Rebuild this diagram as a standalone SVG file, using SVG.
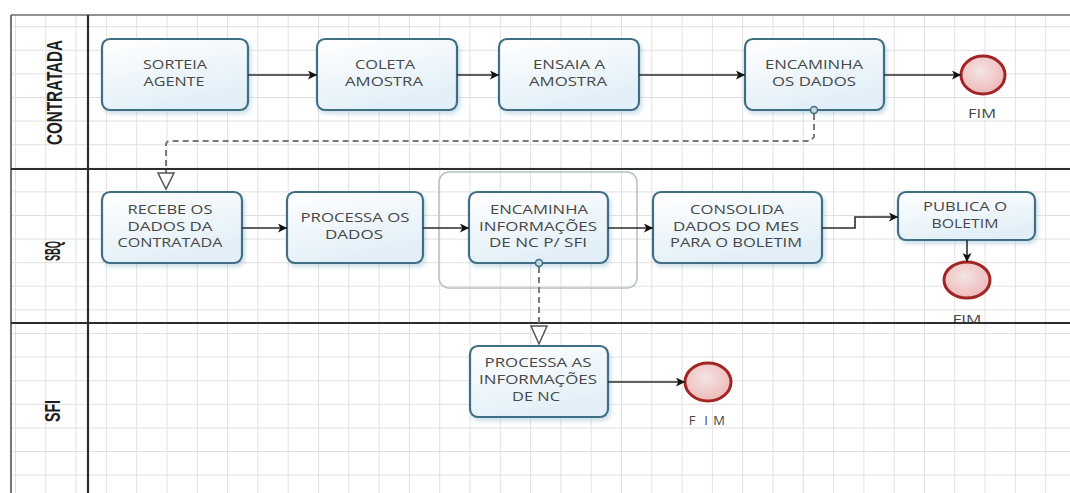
<svg xmlns="http://www.w3.org/2000/svg" width="1070" height="493" viewBox="0 0 1070 493">
<style>
.node rect.box{fill:url(#ng);stroke:#3f6e85;stroke-width:2.2;filter:url(#sh)}
.t{font-family:"Open Sans","Noto Sans",sans-serif;font-size:12px;fill:#474747;text-anchor:middle}
.lane{font-family:"Liberation Sans",Arial,sans-serif;font-weight:bold;font-size:15px;fill:#1e1e1e;text-anchor:middle}
.end ellipse{fill:url(#eg);stroke:#a32424;stroke-width:3}
.flow{stroke:#2b2b2b;stroke-width:1.6;fill:none;marker-end:url(#ah)}
.msg{stroke:#7a7a7a;stroke-width:2;fill:none;stroke-dasharray:6 4}
.tri{fill:#fff;stroke:#555;stroke-width:1.5}
.dot{fill:#c9d6dc;stroke:#3f6e85;stroke-width:1.5}
.div{stroke:#2e2e2e;stroke-width:2.2}
</style>
<defs>
<pattern id="grid" x="15" y="2.6" width="30.3" height="23.6" patternUnits="userSpaceOnUse">
<path d="M0.5,0 V23.6 M0,0.5 H30.3" stroke="#e0e0e0" stroke-width="1" fill="none"/>
</pattern>
<linearGradient id="ng" x1="0" y1="0" x2="0.4" y2="1">
<stop offset="0" stop-color="#ffffff"/>
<stop offset="1" stop-color="#e2eff8"/>
</linearGradient>
<radialGradient id="eg" cx="0.45" cy="0.4" r="0.6">
<stop offset="0" stop-color="#f4e4e4"/>
<stop offset="1" stop-color="#efb9b9"/>
</radialGradient>
<filter id="sh" x="-10%" y="-10%" width="125%" height="130%">
<feDropShadow dx="2" dy="3" stdDeviation="2" flood-color="#8fb7cf" flood-opacity="0.45"/>
</filter>
<clipPath id="laneclip"><rect x="880" y="170" width="190" height="152"/></clipPath>
<marker id="ah" viewBox="0 0 10 10" refX="10" refY="5" markerWidth="10" markerHeight="9" markerUnits="userSpaceOnUse" orient="auto">
<path d="M0,0 L10,5 L0,10 L2.5,5 z" fill="#111"/>
</marker>
</defs>
<rect width="1070" height="493" fill="#fff"/>
<rect x="11" y="15" width="1059" height="478" fill="url(#grid)"/>

<g id="pool">
<line x1="11" y1="15" x2="1070" y2="15" stroke="#6e6e6e" stroke-width="1.6"/>
<line x1="11" y1="15" x2="11" y2="493" stroke="#555" stroke-width="1.6"/>
<line x1="88" y1="15" x2="88" y2="493" class="div"/>
<text class="lane" transform="translate(62,92.5) rotate(-90) scale(1,1.5)" textLength="105" lengthAdjust="spacingAndGlyphs">CONTRATADA</text>
<text class="lane" transform="translate(60,251) rotate(-90) scale(1,1.5)" textLength="20" lengthAdjust="spacingAndGlyphs">SBQ</text>
<text class="lane" transform="translate(60,411) rotate(-90) scale(1,1.5)" textLength="22" lengthAdjust="spacingAndGlyphs">SFI</text>
</g>

<g id="subgroup">
<rect x="439" y="172" width="198" height="116" rx="10" fill="none" stroke="#b4c0c4" stroke-width="1.5"/>
</g>

<g id="n1" class="node"><rect class="box" x="102" y="39" width="146" height="71" rx="8"/>
<text class="t" x="175" y="69" textLength="64" lengthAdjust="spacingAndGlyphs">SORTEIA</text>
<text class="t" x="174" y="86" textLength="61" lengthAdjust="spacingAndGlyphs">AGENTE</text></g>
<g id="n2" class="node"><rect class="box" x="317" y="39" width="140" height="71" rx="8"/>
<text class="t" x="385" y="69" textLength="60" lengthAdjust="spacingAndGlyphs">COLETA</text>
<text class="t" x="384" y="86" textLength="78" lengthAdjust="spacingAndGlyphs">AMOSTRA</text></g>
<g id="n3" class="node"><rect class="box" x="499" y="39" width="140" height="71" rx="8"/>
<text class="t" x="569" y="69" textLength="72" lengthAdjust="spacingAndGlyphs">ENSAIA A</text>
<text class="t" x="568" y="86" textLength="78" lengthAdjust="spacingAndGlyphs">AMOSTRA</text></g>
<g id="n4" class="node"><rect class="box" x="745" y="39" width="139" height="71" rx="8"/>
<text class="t" x="814" y="69" textLength="98" lengthAdjust="spacingAndGlyphs">ENCAMINHA</text>
<text class="t" x="814" y="86" textLength="84" lengthAdjust="spacingAndGlyphs">OS DADOS</text></g>
<g id="e1" class="end"><ellipse cx="983" cy="75" rx="22" ry="19"/>
<text class="t" x="982" y="118" textLength="28" lengthAdjust="spacingAndGlyphs">FIM</text></g>

<g id="n5" class="node"><rect class="box" x="102" y="192" width="140" height="71" rx="8"/>
<text class="t" x="170" y="214" textLength="85" lengthAdjust="spacingAndGlyphs">RECEBE OS</text>
<text class="t" x="170" y="231" textLength="85" lengthAdjust="spacingAndGlyphs">DADOS DA</text>
<text class="t" x="170" y="247" textLength="105" lengthAdjust="spacingAndGlyphs">CONTRATADA</text></g>
<g id="n6" class="node"><rect class="box" x="287" y="192" width="136" height="71" rx="8"/>
<text class="t" x="355" y="222" textLength="109" lengthAdjust="spacingAndGlyphs">PROCESSA OS</text>
<text class="t" x="354" y="239" textLength="58" lengthAdjust="spacingAndGlyphs">DADOS</text></g>
<g id="n7" class="node"><rect class="box" x="469" y="192" width="139" height="71" rx="8"/>
<text class="t" x="539" y="214" textLength="98" lengthAdjust="spacingAndGlyphs">ENCAMINHA</text>
<text class="t" x="538" y="231" textLength="118" lengthAdjust="spacingAndGlyphs">INFORMAÇÕES</text>
<text class="t" x="538" y="247" textLength="98" lengthAdjust="spacingAndGlyphs">DE NC P/ SFI</text></g>
<g id="n8" class="node"><rect class="box" x="653" y="192" width="169" height="71" rx="8"/>
<text class="t" x="737" y="214" textLength="94" lengthAdjust="spacingAndGlyphs">CONSOLIDA</text>
<text class="t" x="736" y="231" textLength="126" lengthAdjust="spacingAndGlyphs">DADOS DO MES</text>
<text class="t" x="736" y="247" textLength="132" lengthAdjust="spacingAndGlyphs">PARA O BOLETIM</text></g>
<g id="n9" class="node"><rect class="box" x="898" y="192" width="137" height="48" rx="8"/>
<text class="t" x="965" y="211" textLength="84" lengthAdjust="spacingAndGlyphs">PUBLICA O</text>
<text class="t" x="965" y="228" textLength="67" lengthAdjust="spacingAndGlyphs">BOLETIM</text></g>
<g id="e2" class="end"><ellipse cx="967" cy="280" rx="23" ry="18"/>
<text class="t" x="967" y="323.5" textLength="29" lengthAdjust="spacingAndGlyphs" clip-path="url(#laneclip)">FIM</text></g>

<g id="n10" class="node"><rect class="box" x="470" y="346" width="138" height="71" rx="8"/>
<text class="t" x="538" y="367" textLength="107" lengthAdjust="spacingAndGlyphs">PROCESSA AS</text>
<text class="t" x="538" y="384" textLength="118" lengthAdjust="spacingAndGlyphs">INFORMAÇÕES</text>
<text class="t" x="536" y="401" textLength="48" lengthAdjust="spacingAndGlyphs">DE NC</text></g>
<g id="e3" class="end"><ellipse cx="708" cy="382" rx="23" ry="19"/>
<text class="t" x="692 706 719" y="425" style="font-size:13px">FIM</text></g>

<g id="lanes">
<line x1="11" y1="169" x2="1070" y2="169" class="div"/>
<line x1="11" y1="323" x2="1070" y2="323" class="div"/>
</g>

<g id="connectors">
<line class="flow" x1="248" y1="75" x2="317" y2="75"/>
<line class="flow" x1="457" y1="75" x2="499" y2="75"/>
<line class="flow" x1="639" y1="75" x2="745" y2="75"/>
<line class="flow" x1="884" y1="75" x2="961" y2="75"/>
<line class="flow" x1="242" y1="228" x2="287" y2="228"/>
<line class="flow" x1="423" y1="228" x2="469" y2="228"/>
<line class="flow" x1="608" y1="228" x2="653" y2="228"/>
<path class="flow" d="M822,228 H855 V217 H898"/>
<line class="flow" x1="967" y1="240" x2="967" y2="262"/>
<line class="flow" x1="608" y1="382" x2="685" y2="382"/>
<path class="msg" d="M814,114 V137 L810,141 H170 Q166,141 166,145 V173"/>
<polygon class="tri" points="158,173 174,173 166,189"/>
<circle class="dot" cx="814" cy="110" r="3.5"/>
<path class="msg" d="M539,267 V325"/>
<polygon class="tri" points="531,326 547,326 539,344"/>
<circle class="dot" cx="539" cy="263" r="3.5"/>
</g>
</svg>
